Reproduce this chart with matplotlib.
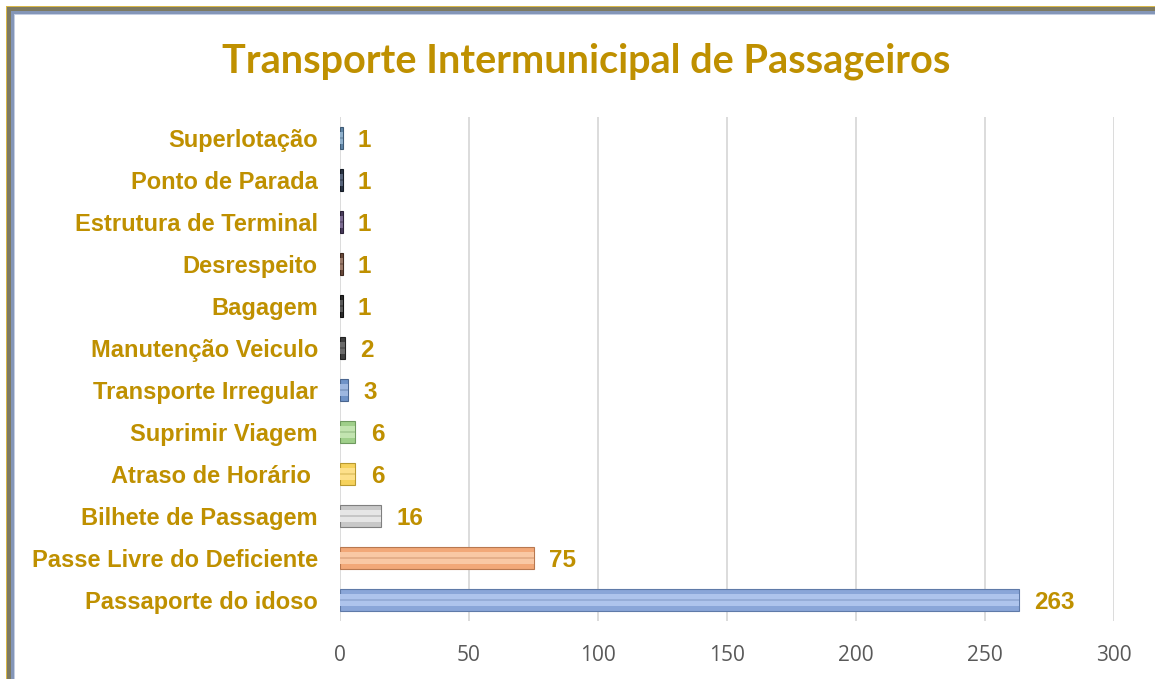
import matplotlib
matplotlib.use("Agg")
import matplotlib.pyplot as plt
from matplotlib.patches import Rectangle
import numpy as np

categories = ["Superlotação", "Ponto de Parada", "Estrutura de Terminal", "Desrespeito",
              "Bagagem", "Manutenção Veiculo", "Transporte Irregular", "Suprimir Viagem",
              "Atraso de Horário ", "Bilhete de Passagem", "Passe Livre do Deficiente",
              "Passaporte do idoso"]
values = [1, 1, 1, 1, 1, 2, 3, 6, 6, 16, 75, 263]
bar_colors = ["#5f86a8", "#2a3445", "#4a3d5e", "#6a4a3c", "#2b2b2b", "#3f3f3f",
              "#6f93c8", "#9fcf8a", "#f6d25c", "#c8c8c8", "#f2a878", "#8aa6d8"]
edge_colors = ["#3e5a75", "#151b25", "#2b2238", "#402a20", "#111111", "#222222",
               "#4a6690", "#6f9a60", "#b99a30", "#7f7f7f", "#b87850", "#5f7aa8"]
light_colors = ["#8fb0cc", "#56637a", "#7a6a90", "#9a7a6a", "#5a5a5a", "#6a6a6a",
                "#9db7e0", "#c2e4b0", "#fde08a", "#e6e6e6", "#f9c8a4", "#aec4ec"]
xticks = [0, 50, 100, 150, 200, 250, 300]
title = "Transporte Intermunicipal de Passageiros"

gold = "#bf9000"
W, H = 1155, 679
fig = plt.figure(figsize=(W / 100, H / 100), dpi=100)
fig.patch.set_facecolor("white")

def fx(px):
    return px / W

def fy(py):
    return 1 - py / H

# frame (top and left borders)
frame = [(6, 1, "#d9b84a"), (7, 4, "#7d7a62"), (11, 3, "#8496b8"), (14, 1, "#c4cee2")]
for off, th, col in frame:
    fig.patches.append(Rectangle((fx(off), 0), fx(th), fy(off), transform=fig.transFigure,
                                 facecolor=col, edgecolor="none", zorder=0))
    fig.patches.append(Rectangle((fx(off), fy(off + th)), 1 - fx(off), fy(off) - fy(off + th),
                                 transform=fig.transFigure, facecolor=col, edgecolor="none", zorder=0))

ax = fig.add_axes([fx(340), fy(621), fx(1114) - fx(340), fy(117) - fy(621)])
ax.set_facecolor("none")
n = len(categories)
ypos = np.arange(n)

ax.barh(ypos, values, height=0.52, color=bar_colors, edgecolor=edge_colors, linewidth=0.8, zorder=3)
ax.barh(ypos, values, height=0.30, color=light_colors, edgecolor="none", linewidth=0, zorder=4)
ax.barh(ypos, values, height=0.025, color=edge_colors, edgecolor="none", linewidth=0, zorder=5, alpha=0.3)

for y, v in zip(ypos, values):
    ax.annotate(str(v), xy=(v, y), xytext=(11, -1.8), textcoords="offset points",
                ha="left", va="center", fontsize=17.5, fontweight="bold",
                color=gold, family="Liberation Sans")

ax.set_xlim(0, 300)
ax.set_ylim(n - 0.5, -0.5)
ax.set_xticks(xticks)
ax.set_xticklabels([str(t) for t in xticks], fontsize=15, color="#595959", family="Open Sans")
ax.set_yticks(ypos)
ax.set_yticklabels(categories, fontsize=17, fontweight="bold", color=gold, family="Liberation Sans")
ax.tick_params(axis="both", length=0)
ax.tick_params(axis="x", pad=17)
ax.tick_params(axis="y", pad=16)
ax.grid(axis="x", color="#d9d9d9", linewidth=1.3, zorder=0)
ax.set_axisbelow(True)
for s in ax.spines.values():
    s.set_visible(False)

fig.text(fx(586), fy(61), title, ha="center", va="center", fontsize=28.5, fontweight="bold",
         color=gold, family="Lato")

fig.savefig("out.png", dpi=100)
